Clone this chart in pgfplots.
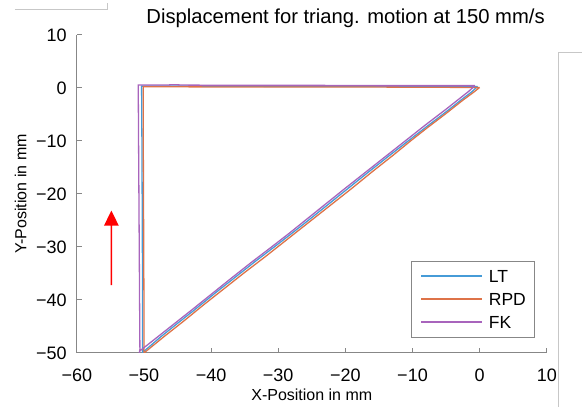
\documentclass[border=0pt]{standalone}
\usepackage{fontspec}
\setmainfont{Liberation Sans}
\usepackage{pgfplots}
\pgfplotsset{compat=1.18}

\definecolor{ltcol}{RGB}{70,155,215}
\definecolor{rpdcol}{RGB}{222,115,72}
\definecolor{fkcol}{RGB}{168,100,188}
\definecolor{axgray}{RGB}{135,135,135}

\begin{document}
\begin{tikzpicture}
\useasboundingbox (-76.8pt,-54pt) rectangle (505.2pt,353pt);
% screenshot edges
\draw[draw=black!22, line width=0.8pt] (-62pt,344pt) -- (30.8pt,344pt) -- (30.8pt,349.5pt);
\draw[draw=black!22, line width=0.8pt] (505.2pt,301pt) -- (481.5pt,301pt) -- (481.5pt,-54pt);
\begin{axis}[
  at={(0,0)}, anchor=south west,
  scale only axis, width=470pt, height=318pt,
  xmin=-60, xmax=10, ymin=-50, ymax=10,
  axis lines=left,
  axis line style={-, draw=axgray, line width=1pt},
  tick style={draw=axgray, line width=1pt},
  tick align=inside, major tick length=5pt,
  xtick={-60,-50,-40,-30,-20,-10,0,10},
  xticklabels={−60,−50,−40,−30,−20,−10,0,10},
  ytick={-50,-40,-30,-20,-10,0,10},
  yticklabels={−50,−40,−30,−20,−10,0,10},
  ticklabel style={font=\fontsize{18}{20}\selectfont, inner sep=0pt},
  xticklabel style={anchor=north, yshift=-16pt},
  yticklabel style={anchor=east, xshift=-10pt},
  xlabel={X-Position in mm},
  ylabel={Y-Position in mm},
  label style={font=\fontsize{16}{18}\selectfont, inner sep=0pt},
  xlabel style={at={(axis description cs:0.5,0)}, anchor=north, yshift=-36pt},
  ylabel style={at={([xshift=-50pt]axis description cs:0,0.5)}, rotate=0, anchor=south},
  title={Displacement for triang. motion at 150 mm/s},
  title style={at={(axis description cs:0,1)}, anchor=base west, inner sep=0pt,
    xshift=69.5pt, yshift=5pt, font=\fontsize{20.2}{22}\selectfont},
  legend style={at={(0.975,0.047)}, anchor=south east,
    draw=axgray, line width=1pt, inner xsep=8.7pt, inner ysep=9pt,
    font=\fontsize{17.5}{19}\selectfont, row sep=10.5pt, column sep=7pt,
    nodes={inner sep=0pt, text height=12.5pt, text depth=0pt}},
  legend cell align=left,
]
\addplot[draw=ltcol, line width=1.3pt,
  legend image code/.code={\fill[fill=ltcol!85] (0pt,-0.5pt) rectangle (60pt,0.5pt);}]
  coordinates {
  (-0.3,0.3) (-1.2,-0.75) (-2.5,-2.0) (-5,-4.5) (-8,-7.4) (-10.5,-9.85)
  (-13.5,-12.8) (-16.5,-15.8) (-19.5,-18.85) (-22.5,-21.9) (-25.5,-24.95)
  (-28,-27.45) (-30.5,-29.9) (-33.5,-32.8) (-36.5,-35.8) (-39.5,-38.8)
  (-42.5,-41.9) (-45,-44.4) (-47.5,-46.95) (-50.2,-49.9)
  (-50.2,-40) (-50.25,-25) (-50.3,-10) (-50.35,0.35)
  (-40,0.35) (-30,0.3) (-20,0.3) (-10,0.3) (-0.3,0.3)
};
\addlegendentry{LT}
\addplot[draw=rpdcol, line width=1.3pt,
  legend image code/.code={\fill[fill=rpdcol!85] (0pt,-0.5pt) rectangle (60pt,0.5pt);}]
  coordinates {
  (0.0,0.1) (-1.0,-0.9) (-2.5,-2.3) (-5.0,-4.8) (-8.0,-7.7) (-10.2,-9.9)
  (-13.0,-12.8) (-16.0,-15.8) (-19.0,-18.9) (-22.0,-21.9) (-25.0,-24.9)
  (-27.5,-27.4) (-29.7,-29.6) (-32.0,-31.9) (-35.0,-34.8) (-38.0,-37.8)
  (-41.0,-40.8) (-44.0,-43.9) (-47.0,-46.9) (-50.0,-50.0)
  (-50.0,-40.0) (-50.05,-25.0) (-50.1,-10.0) (-50.1,0.25)
  (-40.0,0.2) (-30.0,0.2) (-20.0,0.2) (-10.0,0.15) (0.0,0.1)
};
\addlegendentry{RPD}
\addplot[draw=fkcol, line width=1.3pt,
  legend image code/.code={\fill[fill=fkcol!85] (0pt,-0.5pt) rectangle (60pt,0.5pt);}]
  coordinates {
  (-0.7,0.45) (-1.6,-0.6) (-2.8,-1.8) (-5.0,-4.0) (-8.0,-6.9) (-10.9,-9.8)
  (-14.0,-12.9) (-17.0,-15.9) (-20.0,-18.9) (-23.0,-21.95) (-26.0,-25.0)
  (-28.3,-27.35) (-31.0,-30.0) (-34.0,-32.9) (-37.0,-35.9) (-40.0,-38.95)
  (-43.1,-42.1) (-45.5,-44.5) (-48.0,-47.0) (-50.6,-49.6) (-50.7,-50.0)
  (-50.6,-49.3) (-50.65,-40.0) (-50.7,-30.0) (-50.75,-20.0) (-50.8,-10.0)
  (-50.85,0.55) (-47.0,0.55) (-45.5,0.62) (-44.0,0.55) (-35.0,0.5)
  (-25.0,0.5) (-15.0,0.45) (-5.0,0.45) (-0.7,0.45)
};
\addlegendentry{FK}
% direction arrow (shaft and head as one filled outline)
\addplot[fill=red, draw=none, forget plot] coordinates {
  (-54.96,-37.2) (-54.74,-37.2) (-54.74,-25.98) (-53.74,-25.98)
  (-54.85,-23.15) (-55.96,-25.98) (-54.96,-25.98) (-54.96,-37.2)
};
\end{axis}
\end{tikzpicture}
\end{document}
